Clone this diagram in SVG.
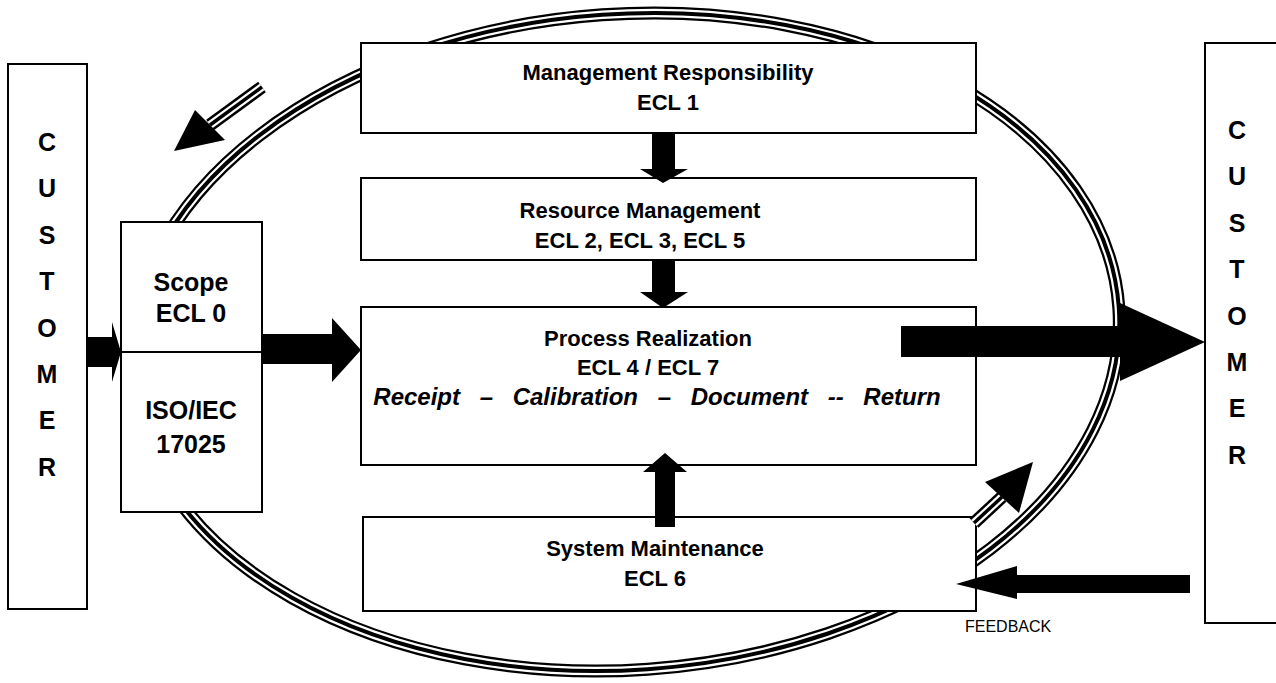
<svg xmlns="http://www.w3.org/2000/svg" width="1276" height="683" viewBox="0 0 1276 683">
<style>
.box{fill:#fff;stroke:#000;stroke-width:2}
.t{font-family:"Liberation Sans",Arial,sans-serif;font-weight:bold;font-size:22px;fill:#000;text-anchor:middle}
.ts{font-family:"Liberation Sans",Arial,sans-serif;font-weight:bold;font-size:25px;fill:#000;text-anchor:middle}
.ti{font-family:"Liberation Sans",Arial,sans-serif;font-weight:bold;font-style:italic;font-size:24px;word-spacing:13px;fill:#000;text-anchor:middle}
.cu{font-family:"Liberation Sans",Arial,sans-serif;font-weight:bold;font-size:25px;fill:#000;text-anchor:middle}
.fb{font-family:"Liberation Sans",Arial,sans-serif;font-size:16px;fill:#000}
.o1{fill:none;stroke:#000;stroke-width:13}
.o2{fill:none;stroke:#fff;stroke-width:8.5}
.o3{fill:none;stroke:#000;stroke-width:4}
.s1{stroke:#000;stroke-width:13;fill:none}
.s2{stroke:#fff;stroke-width:8;fill:none}
.s3{stroke:#000;stroke-width:3.5;fill:none}
.blk{fill:#000}
</style>
<rect width="1276" height="683" fill="#fff"/>
<g id="cycle">
<g transform="rotate(-4 625 342)">
<ellipse class="o1" cx="625" cy="342" rx="495" ry="328"/>
<ellipse class="o2" cx="625" cy="342" rx="495" ry="328"/>
<ellipse class="o3" cx="625" cy="342" rx="495" ry="328"/>
</g>
</g>
<g id="customer-left">
<rect class="box" x="8" y="64" width="79" height="545"/>
<text class="cu" x="47" y="151">C</text>
<text class="cu" x="47" y="197">U</text>
<text class="cu" x="47" y="244">S</text>
<text class="cu" x="47" y="290">T</text>
<text class="cu" x="47" y="337">O</text>
<text class="cu" x="47" y="383">M</text>
<text class="cu" x="47" y="429">E</text>
<text class="cu" x="47" y="476">R</text>
</g>
<g id="customer-right">
<rect class="box" x="1205" y="43" width="90" height="580"/>
<text class="cu" x="1237" y="139">C</text>
<text class="cu" x="1237" y="185">U</text>
<text class="cu" x="1237" y="232">S</text>
<text class="cu" x="1237" y="278">T</text>
<text class="cu" x="1237" y="325">O</text>
<text class="cu" x="1237" y="371">M</text>
<text class="cu" x="1237" y="417">E</text>
<text class="cu" x="1237" y="464">R</text>
</g>
<g id="scope">
<rect class="box" x="121" y="222" width="141" height="290"/>
<line x1="121" y1="352" x2="262" y2="352" stroke="#000" stroke-width="2"/>
<text class="ts" x="191" y="291">Scope</text>
<text class="ts" x="191" y="322">ECL 0</text>
<text class="ts" x="191" y="419">ISO/IEC</text>
<text class="ts" x="191" y="453">17025</text>
</g>
<g id="management">
<rect class="box" x="361" y="43" width="615" height="90"/>
<text class="t" x="668" y="80">Management Responsibility</text>
<text class="t" x="668" y="110">ECL 1</text>
</g>
<g id="resource">
<rect class="box" x="361" y="178" width="615" height="82"/>
<text class="t" x="640" y="218">Resource Management</text>
<text class="t" x="640" y="248">ECL 2, ECL 3, ECL 5</text>
</g>
<g id="process">
<rect class="box" x="361" y="307" width="615" height="158"/>
<text class="t" x="648" y="346">Process Realization</text>
<text class="t" x="648" y="375">ECL 4 / ECL 7</text>
<text class="ti" x="657" y="405">Receipt – Calibration – Document -- Return</text>
</g>
<g id="system">
<rect class="box" x="363" y="517" width="613" height="94"/>
<text class="t" x="655" y="556">System Maintenance</text>
<text class="t" x="655" y="586">ECL 6</text>
</g>
<g id="connectors">
<polygon class="blk" points="87,337 112,337 112,322 121,352 112,382 112,367 87,367"/>
<polygon class="blk" points="262,334 332,334 332,318 361,350 332,382 332,364 262,364"/>
<polygon class="blk" points="652,134 675,134 675,169 688,169 663,183 640,169 652,169"/>
<polygon class="blk" points="652,260 675,260 675,292 688,292 663,308 640,292 652,292"/>
<polygon class="blk" points="655,527 675,527 675,472 687,472 665,453 643,472 655,472"/>
<polygon class="blk" points="901,326 1120,326 1120,303 1205,342 1120,381 1120,357 901,357"/>
<polygon class="blk" points="1190,575 1017,575 1017,566 956,584 1017,599 1017,593 1190,593"/>
<g id="arrow-top-left">
<line class="s1" x1="210" y1="125" x2="262" y2="87"/>
<line class="s2" x1="210" y1="125" x2="262" y2="87"/>
<line class="s3" x1="210" y1="125" x2="262" y2="87"/>
<polygon class="blk" points="174,151 195,110 225,140"/>
</g>
<g id="arrow-bottom-right">
<line class="s1" x1="1002" y1="497" x2="974" y2="523"/>
<line class="s2" x1="1002" y1="497" x2="974" y2="523"/>
<line class="s3" x1="1002" y1="497" x2="974" y2="523"/>
<polygon class="blk" points="1033,462 985,482 1019,513"/>
</g>
</g>
<text class="fb" x="965" y="632">FEEDBACK</text>
</svg>
